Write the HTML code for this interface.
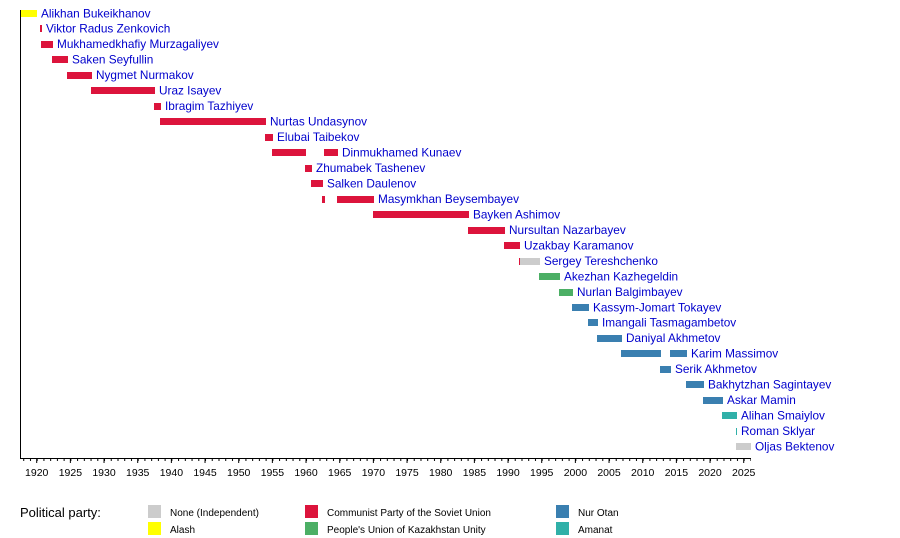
<!DOCTYPE html>
<html><head><meta charset="utf-8"><style>
body{margin:0;background:#fff;}
svg{display:block;font-family:"Liberation Sans",sans-serif;}
.l{font-size:11.8px;fill:#0000cc;}
.t{font-size:10.5px;fill:#000;}
.g{font-size:10px;fill:#000;}
</style></head><body>
<svg width="900" height="538" viewBox="0 0 900 538">
<defs>
<pattern id="mn" x="23.23" y="0" width="6.733" height="10" patternUnits="userSpaceOnUse"><rect x="0" y="0" width="1" height="10" fill="#000"/></pattern>
<pattern id="mj" x="36.2" y="0" width="33.667" height="10" patternUnits="userSpaceOnUse"><rect x="0" y="0" width="1" height="10" fill="#000"/></pattern>
</defs>
<rect x="20" y="10" width="1" height="449" fill="#000"/>
<rect x="20" y="458" width="731" height="1" fill="#000"/>
<rect x="21" y="459" width="730" height="2" fill="url(#mn)"/>
<rect x="21" y="459" width="730" height="4" fill="url(#mj)"/>
<g class="t" text-anchor="middle">
<text x="36.7" y="476">1920</text><text x="70.4" y="476">1925</text><text x="104" y="476">1930</text><text x="137.7" y="476">1935</text><text x="171.4" y="476">1940</text><text x="205" y="476">1945</text><text x="238.7" y="476">1950</text><text x="272.4" y="476">1955</text><text x="306" y="476">1960</text><text x="339.7" y="476">1965</text><text x="373.4" y="476">1970</text><text x="407" y="476">1975</text><text x="440.7" y="476">1980</text><text x="474.4" y="476">1985</text><text x="508" y="476">1990</text><text x="541.7" y="476">1995</text><text x="575.4" y="476">2000</text><text x="609" y="476">2005</text><text x="642.7" y="476">2010</text><text x="676.4" y="476">2015</text><text x="710" y="476">2020</text><text x="743.7" y="476">2025</text>
</g>
<g>
<rect x="21" y="10" width="16" height="7" fill="#ffff00"/>
<rect x="40" y="25" width="2" height="7" fill="#dc143c"/>
<rect x="41" y="41" width="12" height="7" fill="#dc143c"/>
<rect x="52" y="56" width="16" height="7" fill="#dc143c"/>
<rect x="67" y="72" width="25" height="7" fill="#dc143c"/>
<rect x="91" y="87" width="64" height="7" fill="#dc143c"/>
<rect x="154" y="103" width="7" height="7" fill="#dc143c"/>
<rect x="160" y="118" width="106" height="7" fill="#dc143c"/>
<rect x="265" y="134" width="8" height="7" fill="#dc143c"/>
<rect x="272" y="149" width="34" height="7" fill="#dc143c"/>
<rect x="324" y="149" width="14" height="7" fill="#dc143c"/>
<rect x="305" y="165" width="7" height="7" fill="#dc143c"/>
<rect x="311" y="180" width="12" height="7" fill="#dc143c"/>
<rect x="322" y="196" width="3" height="7" fill="#dc143c"/>
<rect x="337" y="196" width="37" height="7" fill="#dc143c"/>
<rect x="373" y="211" width="96" height="7" fill="#dc143c"/>
<rect x="468" y="227" width="37" height="7" fill="#dc143c"/>
<rect x="504" y="242" width="16" height="7" fill="#dc143c"/>
<rect x="519" y="258" width="1" height="7" fill="#dc143c"/>
<rect x="520" y="258" width="20" height="7" fill="#cccccc"/>
<rect x="539" y="273" width="21" height="7" fill="#4caf65"/>
<rect x="559" y="289" width="14" height="7" fill="#4caf65"/>
<rect x="572" y="304" width="17" height="7" fill="#3a7fb0"/>
<rect x="588" y="319" width="10" height="7" fill="#3a7fb0"/>
<rect x="597" y="335" width="25" height="7" fill="#3a7fb0"/>
<rect x="621" y="350" width="40" height="7" fill="#3a7fb0"/>
<rect x="670" y="350" width="17" height="7" fill="#3a7fb0"/>
<rect x="660" y="366" width="11" height="7" fill="#3a7fb0"/>
<rect x="686" y="381" width="18" height="7" fill="#3a7fb0"/>
<rect x="703" y="397" width="20" height="7" fill="#3a7fb0"/>
<rect x="722" y="412" width="15" height="7" fill="#30b0a8"/>
<rect x="736" y="428" width="1" height="7" fill="#30b0a8"/>
<rect x="736" y="443" width="15" height="7" fill="#cccccc"/>
</g>
<g class="l">
<text x="41" y="17.5">Alikhan Bukeikhanov</text>
<text x="46" y="32.5">Viktor Radus Zenkovich</text>
<text x="57" y="48">Mukhamedkhafiy Murzagaliyev</text>
<text x="72" y="63.5">Saken Seyfullin</text>
<text x="96" y="79">Nygmet Nurmakov</text>
<text x="159" y="94.5">Uraz Isayev</text>
<text x="165" y="110">Ibragim Tazhiyev</text>
<text x="270" y="125.5">Nurtas Undasynov</text>
<text x="277" y="141">Elubai Taibekov</text>
<text x="342" y="156.5">Dinmukhamed Kunaev</text>
<text x="316" y="172">Zhumabek Tashenev</text>
<text x="327" y="187.5">Salken Daulenov</text>
<text x="378" y="203">Masymkhan Beysembayev</text>
<text x="473" y="218.5">Bayken Ashimov</text>
<text x="509" y="234">Nursultan Nazarbayev</text>
<text x="524" y="249.5">Uzakbay Karamanov</text>
<text x="544" y="265">Sergey Tereshchenko</text>
<text x="564" y="280.5">Akezhan Kazhegeldin</text>
<text x="577" y="296">Nurlan Balgimbayev</text>
<text x="593" y="311.5">Kassym-Jomart Tokayev</text>
<text x="602" y="326.5">Imangali Tasmagambetov</text>
<text x="626" y="342">Daniyal Akhmetov</text>
<text x="691" y="357.5">Karim Massimov</text>
<text x="675" y="373">Serik Akhmetov</text>
<text x="708" y="388.5">Bakhytzhan Sagintayev</text>
<text x="727" y="404">Askar Mamin</text>
<text x="741" y="419.5">Alihan Smaiylov</text>
<text x="741" y="435">Roman Sklyar</text>
<text x="755" y="450.5">Oljas Bektenov</text>
</g>
<text x="20" y="517" style="font-size:13px">Political party:</text>
<rect x="148" y="505" width="13" height="13" fill="#cccccc"/>
<rect x="148" y="522" width="13" height="13" fill="#ffff00"/>
<rect x="305" y="505" width="13" height="13" fill="#dc143c"/>
<rect x="305" y="522" width="13" height="13" fill="#4caf65"/>
<rect x="556" y="505" width="13" height="13" fill="#3a7fb0"/>
<rect x="556" y="522" width="13" height="13" fill="#30b0a8"/>
<g class="g">
<text x="170" y="516">None (Independent)</text>
<text x="170" y="533">Alash</text>
<text x="327" y="516">Communist Party of the Soviet Union</text>
<text x="327" y="533">People's Union of Kazakhstan Unity</text>
<text x="578" y="516">Nur Otan</text>
<text x="578" y="533">Amanat</text>
</g>
</svg>
</body></html>
